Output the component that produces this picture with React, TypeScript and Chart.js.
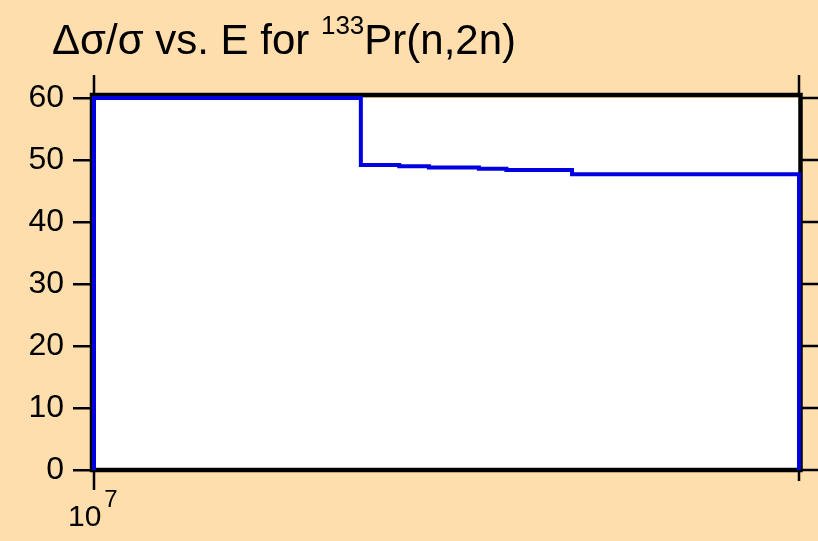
import React, { useEffect, useRef } from "react";
import { Chart, registerables } from "chart.js";

Chart.register(...registerables);

// Bin edges of neutron energy (eV) and relative uncertainty (%) per bin
const energyEdges = [1.0e7, 1.3e7, 1.35e7, 1.39e7, 1.46e7, 1.5e7, 1.6e7, 2.0e7];
const relUncertainty = [60, 49.2, 49.0, 48.8, 48.6, 48.4, 47.7];
const yTickValues = [0, 10, 20, 30, 40, 50, 60];
const xMin = 1e7;
const xMax = 2e7;

const FONT = '"Liberation Sans", Arial, Helvetica, sans-serif';
const BG = "#FFDEAD";

function buildSteps() {
  const pts: { x: number; y: number }[] = [];
  pts.push({ x: energyEdges[0], y: 0 });
  for (let i = 0; i < relUncertainty.length; i++) {
    pts.push({ x: energyEdges[i], y: relUncertainty[i] });
    pts.push({ x: energyEdges[i + 1], y: relUncertainty[i] });
  }
  pts.push({ x: energyEdges[energyEdges.length - 1], y: 0 });
  return pts;
}

const decorPlugin = {
  id: "decor",
  beforeDraw(chart: any) {
    const { ctx, chartArea: a } = chart;
    ctx.save();
    ctx.fillStyle = BG;
    ctx.fillRect(0, 0, chart.width, chart.height);
    ctx.fillStyle = "#FFFFFF";
    ctx.fillRect(a.left, a.top, a.right - a.left, a.bottom - a.top);
    ctx.restore();
  },
  beforeDatasetsDraw(chart: any) {
    const { ctx, chartArea: a } = chart;
    ctx.save();
    ctx.strokeStyle = "#000";
    ctx.lineWidth = 4.5;
    ctx.strokeRect(a.left - 2, a.top - 3, a.right - a.left + 3.5, a.bottom - a.top + 3);
    ctx.restore();
  },
  afterDraw(chart: any) {
    const { ctx, chartArea: a } = chart;
    const xs = chart.scales.x;
    const ys = chart.scales.y;
    ctx.save();
    ctx.strokeStyle = "#000";
    ctx.lineWidth = 2.5;
    ctx.beginPath();
    // right-side ticks
    yTickValues.forEach((v) => {
      const py = ys.getPixelForValue(v);
      ctx.moveTo(a.right + 2, py);
      ctx.lineTo(chart.width, py);
    });
    // top ticks
    [xMin, xMax].forEach((v) => {
      const px = xs.getPixelForValue(v);
      ctx.moveTo(px, a.top - 4);
      ctx.lineTo(px, a.top - 23);
    });
    // bottom ticks
    const p0 = xs.getPixelForValue(xMin);
    ctx.moveTo(p0, a.bottom);
    ctx.lineTo(p0, a.bottom + 20);
    const p1 = xs.getPixelForValue(xMax);
    ctx.moveTo(p1, a.bottom);
    ctx.lineTo(p1, a.bottom + 11);
    ctx.stroke();

    // x tick label 10^7
    ctx.fillStyle = "#000";
    ctx.textBaseline = "alphabetic";
    ctx.textAlign = "left";
    ctx.font = `30px ${FONT}`;
    const base = "10";
    const bw = ctx.measureText(base).width;
    const lx = p0 - 26;
    ctx.fillText(base, lx, 526);
    ctx.font = `24px ${FONT}`;
    ctx.fillText("7", lx + bw + 3, 507);

    // title
    let tx = 52;
    ctx.font = `42px ${FONT}`;
    const t1 = "\u0394\u03c3/\u03c3 vs. E for ";
    ctx.fillText(t1, tx, 54);
    tx += ctx.measureText(t1).width;
    ctx.font = `26px ${FONT}`;
    ctx.fillText("133", tx, 34);
    tx += ctx.measureText("133").width;
    ctx.font = `42px ${FONT}`;
    ctx.fillText("Pr(n,2n)", tx, 54);
    ctx.restore();
  },
};

export default function App() {
  const ref = useRef<HTMLCanvasElement | null>(null);
  useEffect(() => {
    document.body.style.margin = "0";
    const canvas = ref.current!;
    const chart = new Chart(canvas, {
      type: "line",
      data: {
        datasets: [
          {
            data: buildSteps(),
            borderColor: "rgb(0,0,225)",
            borderWidth: 4,
            pointRadius: 0,
            fill: false,
            tension: 0,
            clip: false as any,
          },
        ],
      },
      options: {
        responsive: false,
        animation: false,
        layout: { padding: { top: 98, right: 19, left: 0, bottom: 0 } },
        plugins: {
          legend: { display: false },
          tooltip: { enabled: false },
          title: { display: false },
        },
        scales: {
          x: {
            type: "logarithmic",
            min: xMin,
            max: xMax,
            afterBuildTicks: (s: any) => {
              s.ticks = [{ value: xMin }, { value: xMax }];
            },
            afterFit: (s: any) => {
              s.height = 71;
            },
            ticks: { display: false },
            grid: { display: false },
            border: { display: false },
          },
          y: {
            type: "linear",
            min: 0,
            max: 60,
            afterBuildTicks: (s: any) => {
              s.ticks = yTickValues.map((v) => ({ value: v }));
            },
            afterFit: (s: any) => {
              s.width = 94;
            },
            ticks: {
              color: "#000",
              font: { size: 32, family: FONT },
              padding: 9,
            },
            grid: {
              display: true,
              drawOnChartArea: false,
              drawTicks: true,
              tickLength: 21,
              color: "#000",
              lineWidth: 2.5,
            },
            border: { display: false },
          },
        },
      },
      plugins: [decorPlugin],
    });
    return () => chart.destroy();
  }, []);
  return (
    <div style={{ width: 818, height: 541, background: BG }}>
      <canvas ref={ref} width={818} height={541} />
    </div>
  );
}
